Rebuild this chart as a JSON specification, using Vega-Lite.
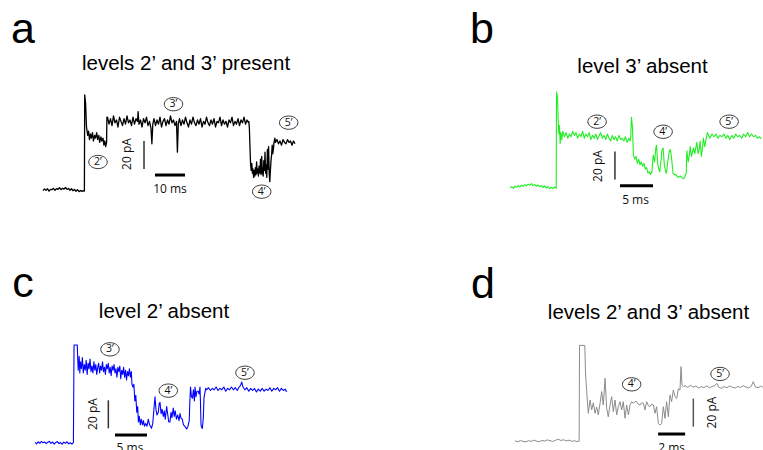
{
"$schema":"https://vega.github.io/schema/vega-lite/v6.json",
"padding":0,"spacing":0,"bounds":"flush","columns":2,
"background":"white",
"config":{"view":{"stroke":null}},
"datasets":{
"a":[{"t":0,"i":-0.5},{"t":0.5,"i":0.8},{"t":1,"i":-0.3},{"t":1.5,"i":0.9},{"t":2,"i":-0.8},{"t":2.5,"i":0.5},{"t":3,"i":0.2},{"t":3.5,"i":1.2},{"t":4,"i":-0.2},{"t":4.5,"i":1.0},{"t":5,"i":0.4},{"t":5.5,"i":1.6},{"t":6,"i":0.3},{"t":6.5,"i":1.3},{"t":7,"i":0.6},{"t":7.5,"i":1.8},{"t":8,"i":0.4},{"t":8.5,"i":1.1},{"t":9,"i":-0.2},{"t":9.5,"i":0.9},{"t":10,"i":-0.5},{"t":10.5,"i":0.4},{"t":11,"i":-0.9},{"t":11.5,"i":0.2},{"t":12,"i":-1.2},{"t":12.5,"i":-0.3},{"t":13,"i":-1.0},{"t":13.5,"i":-0.4},{"t":13.8,"i":-0.8},
{"t":13.9,"i":68},{"t":14.2,"i":62},{"t":14.5,"i":45},{"t":14.7,"i":42},
{"t":14.9,"i":39},{"t":15.2,"i":42},{"t":15.5,"i":36},{"t":15.8,"i":40},{"t":16.1,"i":37},{"t":16.5,"i":41},{"t":16.8,"i":35},{"t":17.2,"i":39},{"t":17.5,"i":37},{"t":17.9,"i":41},{"t":18.2,"i":36},{"t":18.6,"i":39},{"t":18.9,"i":34},{"t":19.3,"i":38},{"t":19.6,"i":35},{"t":20,"i":37},{"t":20.3,"i":32},{"t":20.6,"i":35},{"t":20.9,"i":31},{"t":21.2,"i":34},
{"t":21.3,"i":52},{"t":21.5,"i":52},{"t":22,"i":47},{"t":22.5,"i":51},{"t":23,"i":46},{"t":23.5,"i":53},{"t":24,"i":48},{"t":24.5,"i":50},{"t":25,"i":45},{"t":25.5,"i":52},{"t":26,"i":49},{"t":26.5,"i":46},{"t":27,"i":51},{"t":27.5,"i":47},{"t":28,"i":53},{"t":28.5,"i":48},{"t":29,"i":50},{"t":29.5,"i":46},{"t":30,"i":52},{"t":30.5,"i":47},{"t":31,"i":51},{"t":31.5,"i":49},{"t":31.7,"i":56},{"t":32,"i":47},{"t":32.5,"i":50},{"t":33,"i":45},{"t":33.5,"i":51},{"t":34,"i":48},{"t":34.5,"i":52},{"t":35,"i":46},{"t":35.5,"i":49},{"t":36,"i":44},{"t":36.3,"i":33},{"t":36.6,"i":47},{"t":37,"i":51},{"t":37.5,"i":46},{"t":38,"i":50},{"t":38.5,"i":47},{"t":39,"i":52},{"t":39.5,"i":45},{"t":40,"i":49},{"t":40.5,"i":51},{"t":41,"i":46},{"t":41.5,"i":50},{"t":42,"i":47},{"t":42.5,"i":53},{"t":43,"i":48},{"t":43.5,"i":50},{"t":44,"i":46},{"t":44.5,"i":49},{"t":44.8,"i":27},{"t":45.1,"i":47},{"t":45.5,"i":51},{"t":46,"i":46},{"t":46.5,"i":50},{"t":47,"i":47},{"t":47.5,"i":52},{"t":48,"i":48},{"t":48.5,"i":45},{"t":49,"i":50},{"t":49.5,"i":47},{"t":50,"i":52},{"t":50.5,"i":48},{"t":51,"i":46},{"t":51.5,"i":50},{"t":52,"i":47},{"t":52.5,"i":51},{"t":53,"i":45},{"t":53.5,"i":49},{"t":54,"i":47},{"t":54.5,"i":52},{"t":55,"i":48},{"t":55.5,"i":46},{"t":56,"i":50},{"t":56.5,"i":47},{"t":57,"i":51},{"t":57.5,"i":45},{"t":58,"i":49},{"t":58.5,"i":48},{"t":59,"i":52},{"t":59.5,"i":46},{"t":60,"i":50},{"t":60.5,"i":47},{"t":61,"i":49},{"t":61.5,"i":45},{"t":62,"i":50},{"t":62.5,"i":48},{"t":63,"i":52},{"t":63.5,"i":46},{"t":64,"i":49},{"t":64.5,"i":47},{"t":65,"i":51},{"t":65.5,"i":46},{"t":66,"i":50},{"t":66.5,"i":48},{"t":67,"i":52},{"t":67.5,"i":47},{"t":68,"i":50},{"t":68.5,"i":48},
{"t":68.6,"i":49},{"t":68.8,"i":44},{"t":69.0,"i":30},{"t":69.2,"i":18},{"t":69.4,"i":14},{"t":69.6,"i":19},{"t":69.8,"i":12},{"t":70.0,"i":15},{"t":70.2,"i":9},{"t":70.4,"i":14},{"t":70.6,"i":10},{"t":70.8,"i":16},{"t":71.0,"i":11},{"t":71.2,"i":20},{"t":71.4,"i":12},{"t":71.6,"i":15},{"t":71.8,"i":10},{"t":72.0,"i":17},{"t":72.3,"i":12},{"t":72.5,"i":22},{"t":72.7,"i":11},{"t":72.9,"i":24},{"t":73.1,"i":13},{"t":73.4,"i":10},{"t":73.6,"i":21},{"t":73.8,"i":14},{"t":74.0,"i":27},{"t":74.2,"i":12},{"t":74.4,"i":18},{"t":74.6,"i":9},{"t":74.8,"i":29},{"t":75.0,"i":15},{"t":75.2,"i":31},{"t":75.4,"i":12},{"t":75.6,"i":6},{"t":75.8,"i":14},{"t":76.0,"i":21},{"t":76.2,"i":25},{"t":76.4,"i":32},{"t":76.6,"i":26},{"t":76.8,"i":29},{"t":77.0,"i":34},{"t":77.3,"i":37},
{"t":77.5,"i":34},{"t":78,"i":36},{"t":78.5,"i":33},{"t":79,"i":35},{"t":79.5,"i":32},{"t":80,"i":36},{"t":80.5,"i":34},{"t":81,"i":33},{"t":81.5,"i":36},{"t":82,"i":34},{"t":82.5,"i":35},{"t":83,"i":32},{"t":83.5,"i":35},{"t":84,"i":33}],
"b":[{"t":0,"i":1.5},{"t":0.25,"i":2.4},{"t":0.5,"i":1.2},{"t":0.75,"i":2.8},{"t":1,"i":1.9},{"t":1.25,"i":3.1},{"t":1.5,"i":2.2},{"t":1.75,"i":3.4},{"t":2,"i":2.6},{"t":2.25,"i":3.8},{"t":2.5,"i":3.0},{"t":2.75,"i":4.2},{"t":3,"i":3.3},{"t":3.25,"i":4.5},{"t":3.5,"i":3.1},{"t":3.75,"i":3.9},{"t":4,"i":2.7},{"t":4.25,"i":3.6},{"t":4.5,"i":2.3},{"t":4.75,"i":3.2},{"t":5,"i":1.8},{"t":5.25,"i":2.9},{"t":5.5,"i":1.4},{"t":5.75,"i":2.5},{"t":6,"i":0.9},{"t":6.25,"i":2.1},{"t":6.5,"i":1.0},{"t":6.75,"i":2.3},{"t":7.0,"i":1.2},
{"t":7.05,"i":70},{"t":7.2,"i":66},{"t":7.3,"i":50},{"t":7.4,"i":40},{"t":7.5,"i":46},{"t":7.6,"i":33},{"t":7.7,"i":41},{"t":7.85,"i":36},
{"t":8.0,"i":42},{"t":8.25,"i":38},{"t":8.5,"i":41},{"t":8.75,"i":37},{"t":9,"i":40},{"t":9.25,"i":38},{"t":9.5,"i":42},{"t":9.75,"i":39},{"t":10,"i":41},{"t":10.25,"i":37},{"t":10.5,"i":40},{"t":10.75,"i":38},{"t":11,"i":42},{"t":11.25,"i":37},{"t":11.5,"i":40},{"t":11.75,"i":38},{"t":12,"i":41},{"t":12.25,"i":36},{"t":12.5,"i":39},{"t":12.75,"i":37},{"t":13,"i":40},{"t":13.25,"i":36},{"t":13.5,"i":39},{"t":13.75,"i":41},{"t":14,"i":37},{"t":14.25,"i":39},{"t":14.5,"i":36},{"t":14.75,"i":40},{"t":15,"i":37},{"t":15.25,"i":35},{"t":15.5,"i":39},{"t":15.75,"i":36},{"t":16,"i":38},{"t":16.25,"i":35},{"t":16.5,"i":39},{"t":16.75,"i":36},{"t":17,"i":37},{"t":17.25,"i":35},{"t":17.5,"i":38},{"t":17.75,"i":34},{"t":18.0,"i":37},{"t":18.2,"i":35},{"t":18.3,"i":38},
{"t":18.4,"i":52},{"t":18.55,"i":45},{"t":18.7,"i":25},
{"t":18.9,"i":22},{"t":19.1,"i":24},{"t":19.3,"i":19},{"t":19.5,"i":22},{"t":19.7,"i":18},{"t":19.9,"i":20},{"t":20.1,"i":17},{"t":20.3,"i":19},{"t":20.5,"i":15},{"t":20.7,"i":16},{"t":20.9,"i":12},{"t":21.1,"i":13},{"t":21.3,"i":11},{"t":21.5,"i":13},{"t":21.7,"i":25},{"t":21.9,"i":20},{"t":22.1,"i":30},{"t":22.2,"i":32},{"t":22.4,"i":18},{"t":22.6,"i":14},{"t":22.7,"i":13},{"t":22.9,"i":22},{"t":23.0,"i":28},{"t":23.2,"i":30},{"t":23.4,"i":17},{"t":23.6,"i":13},{"t":23.7,"i":12},{"t":23.9,"i":20},{"t":24.1,"i":27},{"t":24.3,"i":29},{"t":24.5,"i":22},{"t":24.7,"i":12},{"t":24.9,"i":11},{"t":25.1,"i":11},{"t":25.3,"i":10},{"t":25.5,"i":9},{"t":25.8,"i":10},{"t":26.0,"i":9},{"t":26.3,"i":8},{"t":26.5,"i":9.5},{"t":26.7,"i":12},{"t":26.8,"i":28},{"t":27.0,"i":20},{"t":27.2,"i":26},{"t":27.3,"i":31},{"t":27.5,"i":24},{"t":27.8,"i":30},{"t":28.0,"i":26},{"t":28.3,"i":34},{"t":28.5,"i":26},{"t":28.7,"i":30},{"t":28.8,"i":35},{"t":29.0,"i":24},{"t":29.2,"i":32},{"t":29.3,"i":37},{"t":29.5,"i":31},{"t":29.7,"i":36},{"t":29.9,"i":41},
{"t":30.1,"i":39},{"t":30.3,"i":37},{"t":30.6,"i":40},{"t":30.9,"i":38},{"t":31.2,"i":40},{"t":31.5,"i":37},{"t":31.8,"i":39},{"t":32.1,"i":38},{"t":32.4,"i":40},{"t":32.7,"i":37},{"t":33.0,"i":39},{"t":33.3,"i":36},{"t":33.6,"i":39},{"t":33.9,"i":37},{"t":34.2,"i":40},{"t":34.5,"i":38},{"t":34.8,"i":39},{"t":35.1,"i":37},{"t":35.4,"i":40},{"t":35.7,"i":38},{"t":36.0,"i":41},{"t":36.3,"i":38},{"t":36.6,"i":40},{"t":36.9,"i":38},{"t":37.2,"i":39},{"t":37.5,"i":37},{"t":37.8,"i":38},{"t":38.1,"i":36.5}],
"c":[{"t":0,"i":0.5},{"t":0.25,"i":-0.6},{"t":0.5,"i":0.9},{"t":0.75,"i":-0.2},{"t":1,"i":1.1},{"t":1.25,"i":0.1},{"t":1.5,"i":0.8},{"t":1.75,"i":-0.5},{"t":2,"i":0.6},{"t":2.25,"i":1.2},{"t":2.5,"i":-0.3},{"t":2.75,"i":0.7},{"t":3,"i":-0.8},{"t":3.25,"i":0.4},{"t":3.5,"i":1.0},{"t":3.75,"i":-0.4},{"t":4,"i":0.3},{"t":4.25,"i":-0.9},{"t":4.5,"i":0.6},{"t":4.75,"i":-0.2},{"t":5,"i":0.9},{"t":5.25,"i":-0.6},{"t":5.5,"i":0.2},{"t":5.75,"i":-0.7},{"t":6.0,"i":0.3},
{"t":6.1,"i":70},{"t":6.6,"i":70},{"t":6.75,"i":52},{"t":6.9,"i":62},{"t":7.0,"i":50},{"t":7.1,"i":58},{"t":7.25,"i":53},
{"t":7.4,"i":61},{"t":7.55,"i":50},{"t":7.7,"i":56},{"t":7.85,"i":52},{"t":8.0,"i":59},{"t":8.15,"i":49},{"t":8.3,"i":57},{"t":8.45,"i":53},{"t":8.6,"i":60},{"t":8.75,"i":51},{"t":8.9,"i":55},{"t":9.05,"i":50},{"t":9.2,"i":58},{"t":9.35,"i":52},{"t":9.5,"i":56},{"t":9.65,"i":49},{"t":9.8,"i":54},{"t":9.95,"i":57},{"t":10.1,"i":50},{"t":10.25,"i":55},{"t":10.4,"i":52},{"t":10.55,"i":58},{"t":10.7,"i":51},{"t":10.85,"i":54},{"t":11.0,"i":49},{"t":11.15,"i":56},{"t":11.3,"i":53},{"t":11.45,"i":57},{"t":11.6,"i":50},{"t":11.75,"i":54},{"t":11.9,"i":48},{"t":12.05,"i":55},{"t":12.2,"i":52},{"t":12.35,"i":56},{"t":12.5,"i":50},{"t":12.65,"i":53},{"t":12.8,"i":47},{"t":12.95,"i":54},{"t":13.1,"i":51},{"t":13.25,"i":55},{"t":13.4,"i":46},{"t":13.55,"i":52},{"t":13.7,"i":49},{"t":13.85,"i":54},{"t":14.0,"i":47},{"t":14.15,"i":52},{"t":14.3,"i":45},{"t":14.45,"i":51},{"t":14.6,"i":48},{"t":14.75,"i":53},{"t":14.9,"i":47},{"t":15.05,"i":51},{"t":15.15,"i":42},
{"t":15.3,"i":40},{"t":15.45,"i":42},{"t":15.6,"i":30},{"t":15.75,"i":34},{"t":15.9,"i":22},{"t":16.05,"i":26},{"t":16.15,"i":15},{"t":16.3,"i":19},{"t":16.45,"i":13},{"t":16.6,"i":17},{"t":16.8,"i":13},{"t":16.95,"i":16},{"t":17.1,"i":12},{"t":17.3,"i":14},{"t":17.5,"i":12},{"t":17.7,"i":17},{"t":17.9,"i":13},{"t":18.05,"i":12},{"t":18.2,"i":10.5},{"t":18.4,"i":14},{"t":18.6,"i":25},{"t":18.75,"i":33},{"t":18.9,"i":24},{"t":19.05,"i":20},{"t":19.27,"i":22},{"t":19.4,"i":28},{"t":19.53,"i":29},{"t":19.7,"i":21},{"t":19.85,"i":24},{"t":20.05,"i":19},{"t":20.2,"i":23},{"t":20.35,"i":17},{"t":20.57,"i":26},{"t":20.75,"i":20},{"t":20.9,"i":15},{"t":21.09,"i":15},{"t":21.25,"i":22},{"t":21.4,"i":18},{"t":21.6,"i":25},{"t":21.75,"i":19},{"t":21.9,"i":23},{"t":22.1,"i":17},{"t":22.3,"i":20},{"t":22.5,"i":16},{"t":22.66,"i":21},{"t":22.8,"i":18},{"t":23.0,"i":17},{"t":23.2,"i":13},{"t":23.4,"i":12},{"t":23.55,"i":11},{"t":23.7,"i":10},{"t":23.9,"i":12},{"t":24.1,"i":16},{"t":24.2,"i":30},{"t":24.3,"i":40},{"t":24.45,"i":33},{"t":24.6,"i":32},{"t":24.75,"i":38},{"t":24.9,"i":30},{"t":25.0,"i":40},{"t":25.15,"i":33},{"t":25.3,"i":37},{"t":25.5,"i":37},{"t":25.65,"i":35},{"t":25.78,"i":40},{"t":25.85,"i":30},{"t":25.94,"i":13},{"t":26.05,"i":11},{"t":26.15,"i":10.5},{"t":26.3,"i":18},{"t":26.4,"i":32},{"t":26.55,"i":36},{"t":26.67,"i":39},
{"t":26.8,"i":38},{"t":27.1,"i":39.5},{"t":27.4,"i":37.5},{"t":27.7,"i":39},{"t":28.0,"i":38},{"t":28.3,"i":40},{"t":28.6,"i":37.5},{"t":28.9,"i":39},{"t":29.2,"i":38},{"t":29.5,"i":40},{"t":29.8,"i":37},{"t":30.1,"i":39},{"t":30.4,"i":38},{"t":30.7,"i":40},{"t":31.0,"i":38},{"t":31.3,"i":39.5},{"t":31.6,"i":37.5},{"t":31.9,"i":40},{"t":32.1,"i":41},{"t":32.3,"i":43.5},{"t":32.5,"i":40},{"t":32.8,"i":38},{"t":33.1,"i":39.5},{"t":33.4,"i":37},{"t":33.7,"i":39},{"t":34.0,"i":37.5},{"t":34.3,"i":39},{"t":34.6,"i":36.5},{"t":34.9,"i":38.5},{"t":35.2,"i":37},{"t":35.5,"i":39},{"t":35.8,"i":37},{"t":36.1,"i":38.5},{"t":36.4,"i":37.5},{"t":36.7,"i":39.5},{"t":37.0,"i":37},{"t":37.3,"i":39},{"t":37.6,"i":38},{"t":37.9,"i":39.5},{"t":38.2,"i":37},{"t":38.5,"i":39},{"t":38.8,"i":37.5},{"t":39.1,"i":38.5},{"t":39.3,"i":36.5}],
"d":[{"t":0,"i":0.8},{"t":0.2,"i":0.2},{"t":0.4,"i":1.0},{"t":0.6,"i":0.4},{"t":0.8,"i":0.1},{"t":1.0,"i":0.9},{"t":1.2,"i":0.5},{"t":1.4,"i":1.3},{"t":1.6,"i":0.6},{"t":1.8,"i":0.2},{"t":2.0,"i":1.1},{"t":2.2,"i":0.7},{"t":2.4,"i":1.5},{"t":2.6,"i":0.9},{"t":2.8,"i":0.4},{"t":3.0,"i":1.2},{"t":3.2,"i":2.0},{"t":3.4,"i":1.1},{"t":3.6,"i":1.6},{"t":3.8,"i":0.8},{"t":4.0,"i":1.3},{"t":4.2,"i":0.5},{"t":4.4,"i":0.9},{"t":4.6,"i":0.3},{"t":4.75,"i":0.6},
{"t":4.78,"i":69},{"t":5.17,"i":69},{"t":5.22,"i":50},{"t":5.31,"i":36},{"t":5.43,"i":20.5},{"t":5.56,"i":30},{"t":5.68,"i":23},{"t":5.8,"i":28},{"t":5.93,"i":20.5},{"t":6.05,"i":25},{"t":6.17,"i":19.3},{"t":6.30,"i":27.6},{"t":6.42,"i":36},{"t":6.54,"i":26.4},{"t":6.67,"i":45.5},{"t":6.79,"i":24},{"t":6.91,"i":18},{"t":7.04,"i":26.4},{"t":7.16,"i":32.4},{"t":7.28,"i":21.7},{"t":7.41,"i":30},{"t":7.53,"i":19.3},{"t":7.65,"i":25.2},{"t":7.78,"i":28.8},{"t":7.9,"i":22.9},{"t":8.02,"i":28.8},{"t":8.15,"i":17},{"t":8.27,"i":26.4},{"t":8.4,"i":19.3},{"t":8.52,"i":26.4},{"t":8.64,"i":28.8},{"t":8.77,"i":27.6},{"t":8.9,"i":29},{"t":9.01,"i":28.8},{"t":9.13,"i":27},{"t":9.26,"i":26.4},{"t":9.38,"i":28},{"t":9.51,"i":27.6},{"t":9.63,"i":22.9},{"t":9.75,"i":28.8},{"t":9.88,"i":26},{"t":10.0,"i":25.2},{"t":10.12,"i":27},{"t":10.25,"i":26.4},{"t":10.37,"i":20.5},{"t":10.49,"i":25.2},{"t":10.62,"i":13.3},{"t":10.74,"i":12.1},{"t":10.86,"i":13.3},{"t":10.99,"i":25.2},{"t":11.11,"i":16.9},{"t":11.23,"i":28.8},{"t":11.36,"i":18.1},{"t":11.48,"i":33.6},{"t":11.6,"i":28.8},{"t":11.73,"i":37.1},{"t":11.85,"i":32.4},{"t":11.98,"i":31.2},{"t":12.1,"i":38},{"t":12.22,"i":37.1},{"t":12.3,"i":53.8},{"t":12.37,"i":40.7},{"t":12.47,"i":39.5},
{"t":12.6,"i":40.2},{"t":12.8,"i":39.0},{"t":13.0,"i":40.5},{"t":13.2,"i":39.2},{"t":13.4,"i":39.9},{"t":13.6,"i":38.6},{"t":13.8,"i":39.5},{"t":14.0,"i":38.9},{"t":14.2,"i":40.1},{"t":14.4,"i":38.7},{"t":14.6,"i":39.6},{"t":14.8,"i":40.3},{"t":14.94,"i":41.9},{"t":15.1,"i":39.0},{"t":15.3,"i":38.4},{"t":15.5,"i":39.6},{"t":15.7,"i":38.8},{"t":15.9,"i":40.0},{"t":16.1,"i":39.1},{"t":16.3,"i":38.5},{"t":16.5,"i":39.7},{"t":16.7,"i":38.9},{"t":16.9,"i":40.2},{"t":17.1,"i":39.3},{"t":17.3,"i":38.6},{"t":17.5,"i":39.8},{"t":17.65,"i":43.1},{"t":17.8,"i":39.4},{"t":18.0,"i":38.8},{"t":18.2,"i":39.9},{"t":18.35,"i":39.2}],
"ca":[{"t":18.33,"i":20,"label":"2’"},{"t":43.5,"i":61.3,"label":"3’"},{"t":72.9,"i":-1.2,"label":"4’"},{"t":81.9,"i":48.1,"label":"5’"}],
"cb":[{"t":13.2,"i":48.8,"label":"2’"},{"t":23.2,"i":41.6,"label":"4’"},{"t":33.2,"i":48.8,"label":"5’"}],
"cc":[{"t":11.72,"i":66.9,"label":"3’"},{"t":20.83,"i":37.4,"label":"4’"},{"t":32.81,"i":50.2,"label":"5’"}],
"cd":[{"t":8.64,"i":41.2,"label":"4’"},{"t":15.19,"i":48.6,"label":"5’"}]
},
"concat":[
{"width":381,"height":225,
"encoding":{"x":{"field":"t","type":"quantitative","scale":{"domain":[-14.333,112.667],"nice":false,"zero":false},"axis":null},"y":{"field":"i","type":"quantitative","scale":{"domain":[-25,135.714],"nice":false,"zero":false},"axis":null}},
"layer":[
{"data":{"name":"a"},"mark":{"type":"line","color":"#000000","strokeWidth":1.3,"strokeJoin":"round"}},
{"data":{"values":[{"t":33.67,"i":15,"i2":35}]},"mark":{"type":"rule","color":"#333333","strokeWidth":1.5},"encoding":{"y2":{"field":"i2"}}},
{"data":{"values":[{"t":37.33,"t2":47.33,"i":10.7}]},"mark":{"type":"rule","color":"#000000","strokeWidth":3},"encoding":{"x2":{"field":"t2"}}},
{"data":{"name":"ca"},"mark":{"type":"point","shape":"M-1,0A1,0.72 0 1,1 1,0A1,0.72 0 1,1 -1,0Z","size":340,"filled":true,"fill":"white","stroke":"#222222","strokeWidth":0.9,"opacity":1}},
{"data":{"name":"ca"},"mark":{"type":"text","font":"Open Sans","fontSize":10.5,"color":"#111111","baseline":"middle","align":"center"},"encoding":{"text":{"field":"label"}}},
{"data":{"values":[{"t":42.33,"i":0.7,"label":"10 ms"}]},"mark":{"type":"text","font":"Open Sans","fontSize":12,"color":"#111111","baseline":"middle","align":"center"},"encoding":{"text":{"field":"label"}}},
{"data":{"values":[{"t":28,"i":25.7,"label":"20 pA"}]},"mark":{"type":"text","font":"Open Sans","fontSize":12,"color":"#111111","baseline":"middle","align":"center","angle":270},"encoding":{"text":{"field":"label"}}},
{"data":{"values":[{"t":-6.67,"i":105,"label":"a"}]},"mark":{"type":"text","font":"Liberation Sans","fontSize":43,"color":"#000000","baseline":"alphabetic","align":"center"},"encoding":{"text":{"field":"label"}}},
{"data":{"values":[{"t":47.67,"i":85.5,"label":"levels 2’ and 3’ present"}]},"mark":{"type":"text","font":"Liberation Sans","fontSize":20.5,"color":"#000000","baseline":"alphabetic","align":"center"},"encoding":{"text":{"field":"label"}}}
]},
{"width":382,"height":225,
"encoding":{"x":{"field":"t","type":"quantitative","scale":{"domain":[-19.545,38.333],"nice":false,"zero":false},"axis":null},"y":{"field":"i","type":"quantitative","scale":{"domain":[-25,135.714],"nice":false,"zero":false},"axis":null}},
"layer":[
{"data":{"name":"b"},"mark":{"type":"line","color":"#22ee22","strokeWidth":1.1,"strokeJoin":"round"}},
{"data":{"values":[{"t":15.9,"i":7.5,"i2":27.5}]},"mark":{"type":"rule","color":"#333333","strokeWidth":1.5},"encoding":{"y2":{"field":"i2"}}},
{"data":{"values":[{"t":16.67,"t2":21.67,"i":3.1}]},"mark":{"type":"rule","color":"#000000","strokeWidth":3},"encoding":{"x2":{"field":"t2"}}},
{"data":{"name":"cb"},"mark":{"type":"point","shape":"M-1,0A1,0.72 0 1,1 1,0A1,0.72 0 1,1 -1,0Z","size":340,"filled":true,"fill":"white","stroke":"#222222","strokeWidth":0.9,"opacity":1}},
{"data":{"name":"cb"},"mark":{"type":"text","font":"Open Sans","fontSize":10.5,"color":"#111111","baseline":"middle","align":"center"},"encoding":{"text":{"field":"label"}}},
{"data":{"values":[{"t":19.02,"i":-7.5,"label":"5 ms"}]},"mark":{"type":"text","font":"Open Sans","fontSize":12,"color":"#111111","baseline":"middle","align":"center"},"encoding":{"text":{"field":"label"}}},
{"data":{"values":[{"t":13.33,"i":17.1,"label":"20 pA"}]},"mark":{"type":"text","font":"Open Sans","fontSize":12,"color":"#111111","baseline":"middle","align":"center","angle":270},"encoding":{"text":{"field":"label"}}},
{"data":{"values":[{"t":-4.24,"i":105,"label":"b"}]},"mark":{"type":"text","font":"Liberation Sans","fontSize":43,"color":"#000000","baseline":"alphabetic","align":"center"},"encoding":{"text":{"field":"label"}}},
{"data":{"values":[{"t":20.08,"i":83.6,"label":"level 3’ absent"}]},"mark":{"type":"text","font":"Liberation Sans","fontSize":20.5,"color":"#000000","baseline":"alphabetic","align":"center"},"encoding":{"text":{"field":"label"}}}
]},
{"width":381,"height":225,
"encoding":{"x":{"field":"t","type":"quantitative","scale":{"domain":[-5.469,54.063],"nice":false,"zero":false},"axis":null},"y":{"field":"i","type":"quantitative","scale":{"domain":[-5,155.714],"nice":false,"zero":false},"axis":null}},
"layer":[
{"data":{"name":"c"},"mark":{"type":"line","color":"#0000ff","strokeWidth":1.1,"strokeJoin":"round"}},
{"data":{"values":[{"t":11.46,"i":10.5,"i2":30.5}]},"mark":{"type":"rule","color":"#333333","strokeWidth":1.5},"encoding":{"y2":{"field":"i2"}}},
{"data":{"values":[{"t":12.5,"t2":17.5,"i":5.7}]},"mark":{"type":"rule","color":"#000000","strokeWidth":3},"encoding":{"x2":{"field":"t2"}}},
{"data":{"name":"cc"},"mark":{"type":"point","shape":"M-1,0A1,0.72 0 1,1 1,0A1,0.72 0 1,1 -1,0Z","size":340,"filled":true,"fill":"white","stroke":"#222222","strokeWidth":0.9,"opacity":1}},
{"data":{"name":"cc"},"mark":{"type":"text","font":"Open Sans","fontSize":10.5,"color":"#111111","baseline":"middle","align":"center"},"encoding":{"text":{"field":"label"}}},
{"data":{"values":[{"t":14.84,"i":-3.6,"label":"5 ms"}]},"mark":{"type":"text","font":"Open Sans","fontSize":12,"color":"#111111","baseline":"middle","align":"center"},"encoding":{"text":{"field":"label"}}},
{"data":{"values":[{"t":9.06,"i":20.7,"label":"20 pA"}]},"mark":{"type":"text","font":"Open Sans","fontSize":12,"color":"#111111","baseline":"middle","align":"center","angle":270},"encoding":{"text":{"field":"label"}}},
{"data":{"values":[{"t":-1.875,"i":104.3,"label":"c"}]},"mark":{"type":"text","font":"Liberation Sans","fontSize":43,"color":"#000000","baseline":"alphabetic","align":"center"},"encoding":{"text":{"field":"label"}}},
{"data":{"values":[{"t":20.16,"i":89.3,"label":"level 2’ absent"}]},"mark":{"type":"text","font":"Liberation Sans","fontSize":20.5,"color":"#000000","baseline":"alphabetic","align":"center"},"encoding":{"text":{"field":"label"}}}
]},
{"width":382,"height":225,
"encoding":{"x":{"field":"t","type":"quantitative","scale":{"domain":[-9.926,18.37],"nice":false,"zero":false},"axis":null},"y":{"field":"i","type":"quantitative","scale":{"domain":[-5.714,155],"nice":false,"zero":false},"axis":null}},
"layer":[
{"data":{"name":"d"},"mark":{"type":"line","color":"#8c8c8c","strokeWidth":1,"strokeJoin":"round"}},
{"data":{"values":[{"t":13.21,"i":11,"i2":31}]},"mark":{"type":"rule","color":"#555555","strokeWidth":1.5},"encoding":{"y2":{"field":"i2"}}},
{"data":{"values":[{"t":10.6,"t2":12.6,"i":5.7}]},"mark":{"type":"rule","color":"#000000","strokeWidth":3},"encoding":{"x2":{"field":"t2"}}},
{"data":{"name":"cd"},"mark":{"type":"point","shape":"M-1,0A1,0.72 0 1,1 1,0A1,0.72 0 1,1 -1,0Z","size":340,"filled":true,"fill":"white","stroke":"#222222","strokeWidth":0.9,"opacity":1}},
{"data":{"name":"cd"},"mark":{"type":"text","font":"Open Sans","fontSize":10.5,"color":"#111111","baseline":"middle","align":"center"},"encoding":{"text":{"field":"label"}}},
{"data":{"values":[{"t":11.6,"i":-4.3,"label":"2 ms"}]},"mark":{"type":"text","font":"Open Sans","fontSize":12,"color":"#111111","baseline":"middle","align":"center"},"encoding":{"text":{"field":"label"}}},
{"data":{"values":[{"t":14.59,"i":21.07,"label":"20 pA"}]},"mark":{"type":"text","font":"Open Sans","fontSize":12,"color":"#111111","baseline":"middle","align":"center","angle":270},"encoding":{"text":{"field":"label"}}},
{"data":{"values":[{"t":-2.37,"i":102.9,"label":"d"}]},"mark":{"type":"text","font":"Liberation Sans","fontSize":43,"color":"#000000","baseline":"alphabetic","align":"center"},"encoding":{"text":{"field":"label"}}},
{"data":{"values":[{"t":9.89,"i":87.9,"label":"levels 2’ and 3’ absent"}]},"mark":{"type":"text","font":"Liberation Sans","fontSize":20.5,"color":"#000000","baseline":"alphabetic","align":"center"},"encoding":{"text":{"field":"label"}}}
]}
]
}
